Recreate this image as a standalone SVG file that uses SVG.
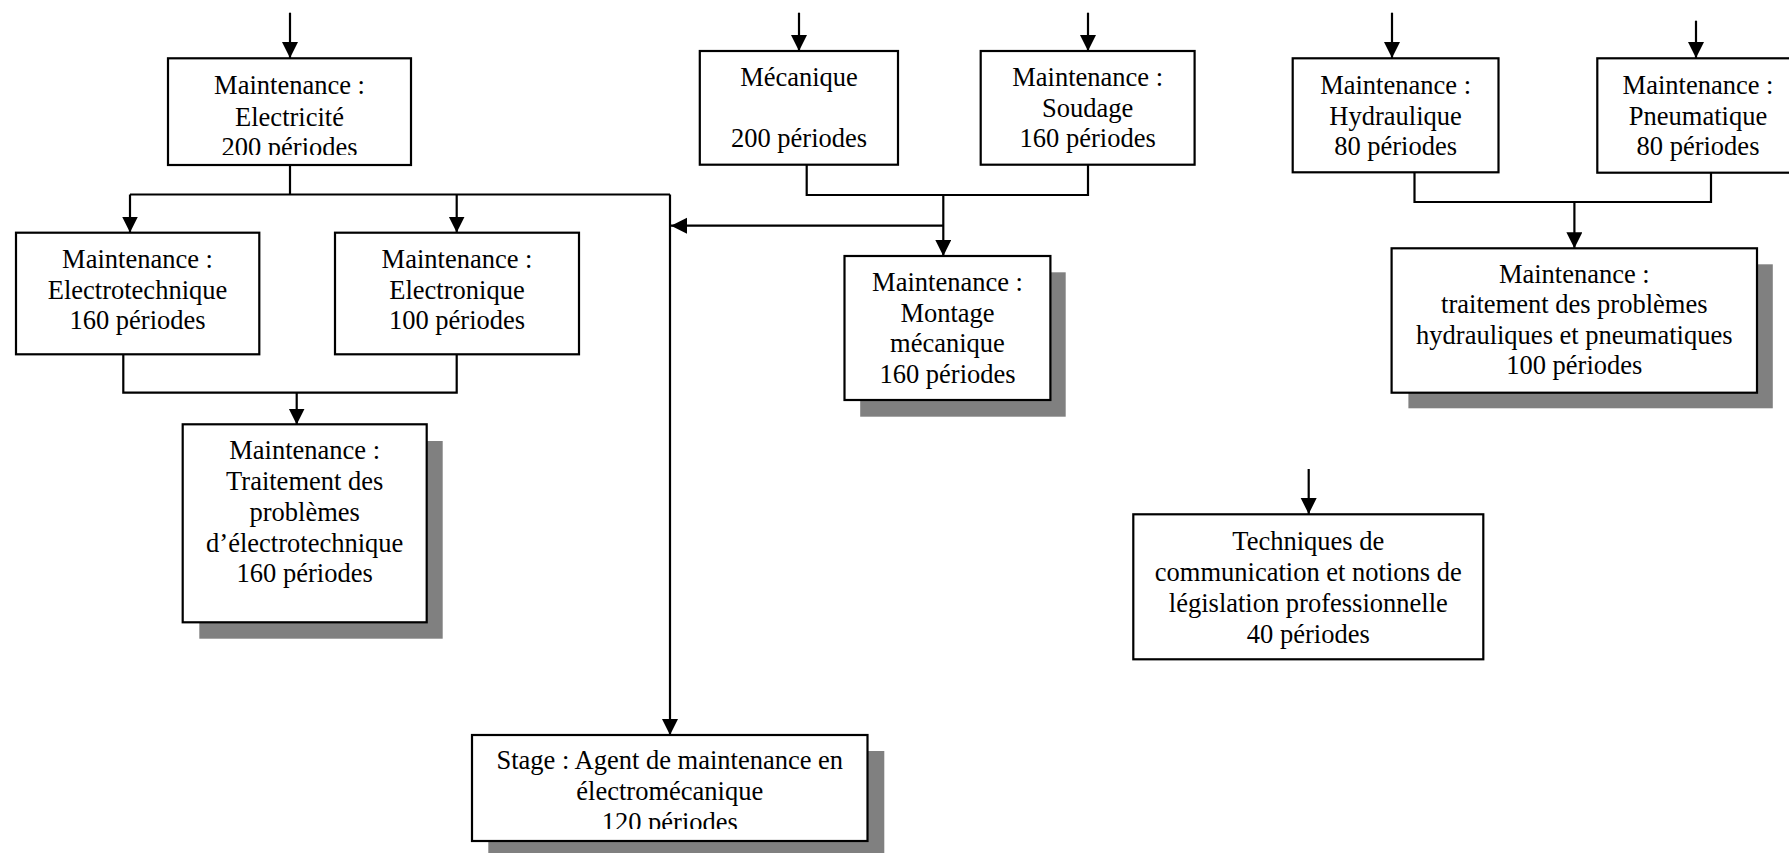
<svg xmlns="http://www.w3.org/2000/svg" width="1789" height="853" viewBox="0 0 1789 853">
<style>
.box{fill:#fff;stroke:#000;stroke-width:2.2}
.sh{fill:#808080}
.t{font-family:"Liberation Serif","Times New Roman",serif;font-size:26.5px;fill:#000;text-anchor:middle}
.c{fill:none;stroke:#000;stroke-width:2.2}
.a{fill:none;stroke:#000;stroke-width:2.2;marker-end:url(#ah)}
</style>
<defs>
<marker id="ah" markerUnits="userSpaceOnUse" markerWidth="17" markerHeight="17" refX="16" refY="8" orient="auto">
<path d="M0,0 L16,8 L0,16 z" fill="#000"/>
</marker>
<clipPath id="clipElec"><rect x="168" y="58" width="243" height="97"/></clipPath>
<clipPath id="clipStage"><rect x="472" y="735" width="396" height="94"/></clipPath>
</defs>
<rect width="1789" height="853" fill="#fff"/>

<g id="connectors">
<path class="a" d="M290,12.7 V58"/>
<path class="a" d="M799,12.7 V51"/>
<path class="a" d="M1088,12.7 V51"/>
<path class="a" d="M1392,12.7 V58"/>
<path class="a" d="M1696,20.7 V58"/>
<path class="a" d="M1308.7,469 V514"/>
<path class="c" d="M290,165 V194.5"/>
<path class="c" d="M130,194.5 H670"/>
<path class="a" d="M130,194.5 V232.5"/>
<path class="a" d="M456.7,194.5 V232.5"/>
<path class="a" d="M670,194.5 V735"/>
<path class="c" d="M806.7,164.7 V195 H1088 V164.7"/>
<path class="a" d="M943.3,195 V256"/>
<path class="a" d="M943.3,225.7 H671"/>
<path class="c" d="M123.3,354.5 V392.7 H456.7 V354.5"/>
<path class="a" d="M296.7,392.7 V424.5"/>
<path class="c" d="M1414.5,172.3 V202 H1711 V172.5"/>
<path class="a" d="M1574.4,202 V248.3"/>
</g>

<g id="n-electricite">
<rect class="box" x="168" y="58.3" width="243" height="106.7"/>
<g clip-path="url(#clipElec)">
<text class="t" x="289.5" y="94.3">Maintenance :</text>
<text class="t" x="289.5" y="125.5">Electricité</text>
<text class="t" x="289.5" y="155.5">200 périodes</text>
</g>
</g>

<g id="n-electrotechnique">
<rect class="box" x="16" y="232.7" width="243.3" height="121.6"/>
<text class="t" x="137.5" y="268.3">Maintenance :</text>
<text class="t" x="137.5" y="299.3">Electrotechnique</text>
<text class="t" x="137.5" y="329.3">160 périodes</text>
</g>

<g id="n-electronique">
<rect class="box" x="335" y="232.7" width="244" height="121.6"/>
<text class="t" x="457" y="268.3">Maintenance :</text>
<text class="t" x="457" y="299.3">Electronique</text>
<text class="t" x="457" y="329.3">100 périodes</text>
</g>

<g id="n-traitement-electro">
<rect class="sh" x="199.3" y="441" width="243.4" height="197.7"/>
<rect class="box" x="182.7" y="424.3" width="244" height="198"/>
<text class="t" x="304.7" y="459.3">Maintenance :</text>
<text class="t" x="304.7" y="490">Traitement des</text>
<text class="t" x="304.7" y="520.7">problèmes</text>
<text class="t" x="304.7" y="551.7">d’électrotechnique</text>
<text class="t" x="304.7" y="581.7">160 périodes</text>
</g>

<g id="n-mecanique">
<rect class="box" x="699.8" y="51" width="198.2" height="113.7"/>
<text class="t" x="799" y="86">Mécanique</text>
<text class="t" x="799" y="147.3">200 périodes</text>
</g>

<g id="n-soudage">
<rect class="box" x="980.7" y="51" width="213.9" height="113.7"/>
<text class="t" x="1087.7" y="86">Maintenance :</text>
<text class="t" x="1087.7" y="116.7">Soudage</text>
<text class="t" x="1087.7" y="147.3">160 périodes</text>
</g>

<g id="n-montage">
<rect class="sh" x="860.2" y="272.3" width="205.5" height="144.4"/>
<rect class="box" x="844.5" y="256" width="205.9" height="144"/>
<text class="t" x="947.5" y="290.7">Maintenance :</text>
<text class="t" x="947.5" y="321.7">Montage</text>
<text class="t" x="947.5" y="352.3">mécanique</text>
<text class="t" x="947.5" y="383.3">160 périodes</text>
</g>

<g id="n-hydraulique">
<rect class="box" x="1292.7" y="58.3" width="205.8" height="114"/>
<text class="t" x="1395.6" y="94">Maintenance :</text>
<text class="t" x="1395.6" y="124.5">Hydraulique</text>
<text class="t" x="1395.6" y="155">80 périodes</text>
</g>

<g id="n-pneumatique">
<rect class="box" x="1597.3" y="58.3" width="200" height="114.4"/>
<text class="t" x="1698" y="94">Maintenance :</text>
<text class="t" x="1698" y="124.5">Pneumatique</text>
<text class="t" x="1698" y="155">80 périodes</text>
</g>

<g id="n-traitement-hydro">
<rect class="sh" x="1408.4" y="264.3" width="364.4" height="144"/>
<rect class="box" x="1391.6" y="248.3" width="365.4" height="144.4"/>
<text class="t" x="1574.3" y="282.7">Maintenance :</text>
<text class="t" x="1574.3" y="313.3">traitement des problèmes</text>
<text class="t" x="1574.3" y="343.7">hydrauliques et pneumatiques</text>
<text class="t" x="1574.3" y="374">100 périodes</text>
</g>

<g id="n-techniques">
<rect class="box" x="1133.3" y="514.3" width="350" height="145"/>
<text class="t" x="1308.3" y="550">Techniques de</text>
<text class="t" x="1308.3" y="581">communication et notions de</text>
<text class="t" x="1308.3" y="611.7">législation professionnelle</text>
<text class="t" x="1308.3" y="642.7">40 périodes</text>
</g>

<g id="n-stage">
<rect class="sh" x="488.3" y="751" width="396" height="106"/>
<rect class="box" x="472" y="735" width="395.5" height="106"/>
<g clip-path="url(#clipStage)">
<text class="t" x="669.8" y="769.3">Stage : Agent de maintenance en</text>
<text class="t" x="669.8" y="800">électromécanique</text>
<text class="t" x="669.8" y="830.7">120 périodes</text>
</g>
</g>
</svg>
